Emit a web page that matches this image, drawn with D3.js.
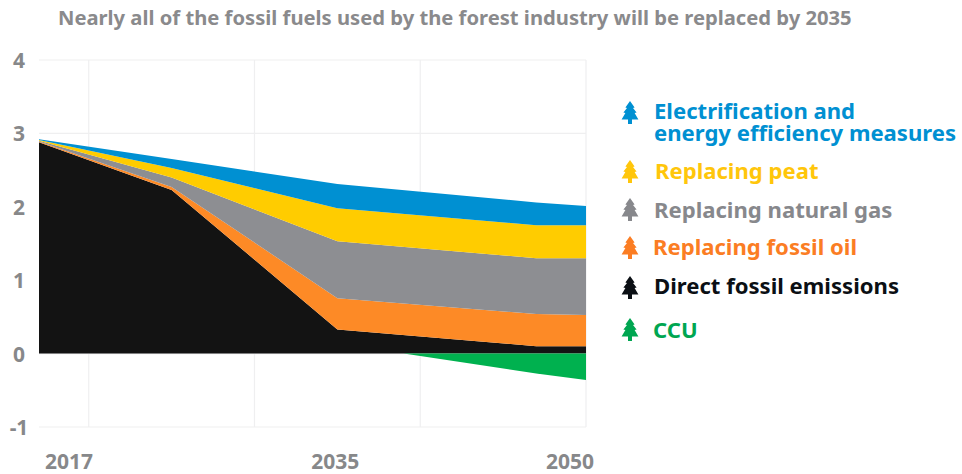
<!DOCTYPE html>
<html>
<head>
<meta charset="utf-8">
<script src="https://cdn.jsdelivr.net/npm/d3@7"></script>
<style>
  html, body { margin: 0; padding: 0; background: #fff; }
  svg { display: block; }
  text { font-family: "Noto Sans", "Open Sans", sans-serif; font-weight: 700; }
</style>
</head>
<body>
<svg id="chart" width="962" height="474"></svg>
<script>
const years = [2017, 2025, 2035, 2047, 2050];
const directFossil = [2.88, 2.23, 0.33, 0.10, 0.10];
const fossilOil = [0.01, 0.04, 0.425, 0.44, 0.425];
const naturalGas = [0.01, 0.13, 0.775, 0.76, 0.775];
const peat = [0.01, 0.13, 0.45, 0.45, 0.45];
const electrification = [0.01, 0.12, 0.33, 0.31, 0.26];
const ccuYears = [2039, 2047, 2050];
const ccu = [0, -0.27, -0.36];

const yTicks = [-1, 0, 1, 2, 3, 4];
const gridYears = [2020, 2030, 2040, 2050];
const yearLabels = [2017, 2035, 2050];
const titleText = "Nearly all of the fossil fuels used by the forest industry will be replaced by 2035";

const seriesKeys = ["direct", "oil", "gas", "peat", "elec"];
const seriesValues = { direct: directFossil, oil: fossilOil, gas: naturalGas, peat: peat, elec: electrification };
const colors = { direct: "#131313", oil: "#fd8a26", gas: "#8d8e92", peat: "#ffcc00", elec: "#0090d2", ccu: "#00b14f" };

const legendRows = [
  { key: "elec", lines: ["Electrification and", "energy efficiency measures"], color: "#0090d2", icon: 113, y: 119, x: 654 },
  { key: "peat", lines: ["Replacing peat"], color: "#ffc60b", icon: 172, y: 179, x: 655 },
  { key: "gas", lines: ["Replacing natural gas"], color: "#87888c", icon: 210, y: 218, x: 654 },
  { key: "oil", lines: ["Replacing fossil oil"], color: "#fb7d23", icon: 248, y: 255, x: 653 },
  { key: "direct", lines: ["Direct fossil emissions"], color: "#0b0f14", icon: 288, y: 294, x: 654 },
  { key: "ccu", lines: ["CCU"], color: "#00a651", icon: 330, y: 338, x: 653 }
];

const svg = d3.select("#chart");
const x = d3.scaleLinear().domain([2017, 2050]).range([39, 586]);
const y = d3.scaleLinear().domain([-1, 4]).range([427, 60]);

// Title
svg.append("text")
  .attr("x", 58).attr("y", 25)
  .attr("fill", "#8a8a8c")
  .attr("font-size", 20.2)
  .text(titleText);

// Grid
const grid = svg.append("g").attr("fill", "none").attr("stroke", "#efeff0").attr("stroke-width", 1.2);
grid.selectAll("line.h").data(yTicks).join("line").attr("class", "h")
  .attr("x1", x(2017)).attr("x2", x(2050))
  .attr("y1", d => y(d)).attr("y2", d => y(d));
grid.selectAll("line.v").data(gridYears).join("line").attr("class", "v")
  .attr("x1", d => x(d)).attr("x2", d => x(d))
  .attr("y1", y(4)).attr("y2", y(-1));

// Stacked emission wedges
const rows = years.map((yr, i) => {
  const row = { year: yr };
  seriesKeys.forEach(k => { row[k] = seriesValues[k][i]; });
  return row;
});
const stacked = d3.stack().keys(seriesKeys)(rows);
const area = d3.area()
  .x(d => x(d.data.year))
  .y0(d => y(d[0]))
  .y1(d => y(d[1]));
svg.append("g").selectAll("path").data(stacked).join("path")
  .attr("fill", d => colors[d.key])
  .attr("d", area);

// Carbon capture and use sits below the zero line
const ccuArea = d3.area()
  .x((d, i) => x(ccuYears[i]))
  .y0(y(0))
  .y1(d => y(d));
svg.append("path").datum(ccu).attr("fill", colors.ccu).attr("d", ccuArea);

// Axis labels
svg.append("g").selectAll("text").data(yTicks).join("text")
  .attr("x", 19).attr("y", d => y(d) + 8)
  .attr("text-anchor", "middle")
  .attr("fill", "#87888a")
  .attr("font-size", 21)
  .text(d => d);

const labelAnchor = { 2017: ["start", 6], 2035: ["middle", -2], 2050: ["end", 8] };
svg.append("g").selectAll("text").data(yearLabels).join("text")
  .attr("x", d => x(d) + labelAnchor[d][1]).attr("y", 469)
  .attr("text-anchor", d => labelAnchor[d][0])
  .attr("fill", "#87888a")
  .attr("font-size", 21)
  .text(d => d);

// Legend with small tree glyphs
const treePath = "M0,-12 L4.6,-5.5 L3,-5 L6.6,-0.5 L4.6,0 L8.4,6.5 L2,6.5 L2,11 L-2,11 L-2,6.5 L-8.4,6.5 L-4.6,0 L-6.6,-0.5 L-3,-5 L-4.6,-5.5 Z";
const legend = svg.append("g").selectAll("g").data(legendRows).join("g");
legend.append("path")
  .attr("d", treePath)
  .attr("fill", d => d.color)
  .attr("transform", d => `translate(630,${d.icon})`);
legend.each(function (d) {
  d3.select(this).selectAll("text").data(d.lines).join("text")
    .attr("x", d.x)
    .attr("y", (_, i) => d.y + i * 22)
    .attr("fill", d.color)
    .attr("font-size", 22.1)
    .text(t => t);
});
</script>
</body>
</html>
